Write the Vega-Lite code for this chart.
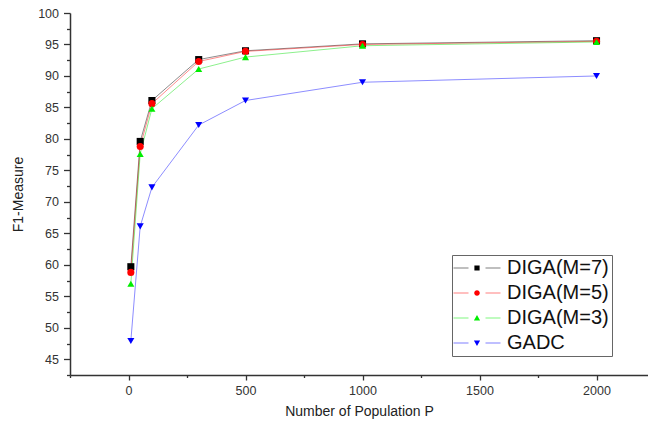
{
  "$schema": "https://vega.github.io/schema/vega-lite/v6.json",
  "width": 578,
  "height": 362,
  "autosize": "none",
  "padding": {"left": 70, "top": 13, "right": 0, "bottom": 55},
  "background": "white",
  "config": {
    "view": {"stroke": null},
    "font": "Liberation Sans",
    "axis": {"grid": false, "domainColor": "#333", "domainWidth": 1.5, "tickColor": "#333", "tickWidth": 1.3, "labelColor": "#333", "titleColor": "#222", "labelFont": "Liberation Sans", "titleFont": "Liberation Sans", "titleFontWeight": "normal"}
  },
  "data": {"values": [
    {"P": 10, "F1": 59.7, "series": "DIGA(M=7)"},
    {"P": 50, "F1": 79.6, "series": "DIGA(M=7)"},
    {"P": 100, "F1": 86.1, "series": "DIGA(M=7)"},
    {"P": 300, "F1": 92.6, "series": "DIGA(M=7)"},
    {"P": 500, "F1": 94.0, "series": "DIGA(M=7)"},
    {"P": 1000, "F1": 95.1, "series": "DIGA(M=7)"},
    {"P": 2000, "F1": 95.6, "series": "DIGA(M=7)"},
    {"P": 10, "F1": 58.8, "series": "DIGA(M=5)"},
    {"P": 50, "F1": 78.8, "series": "DIGA(M=5)"},
    {"P": 100, "F1": 85.6, "series": "DIGA(M=5)"},
    {"P": 300, "F1": 92.3, "series": "DIGA(M=5)"},
    {"P": 500, "F1": 93.9, "series": "DIGA(M=5)"},
    {"P": 1000, "F1": 95.0, "series": "DIGA(M=5)"},
    {"P": 2000, "F1": 95.5, "series": "DIGA(M=5)"},
    {"P": 10, "F1": 57.0, "series": "DIGA(M=3)"},
    {"P": 50, "F1": 77.6, "series": "DIGA(M=3)"},
    {"P": 100, "F1": 84.8, "series": "DIGA(M=3)"},
    {"P": 300, "F1": 91.1, "series": "DIGA(M=3)"},
    {"P": 500, "F1": 93.0, "series": "DIGA(M=3)"},
    {"P": 1000, "F1": 94.8, "series": "DIGA(M=3)"},
    {"P": 2000, "F1": 95.4, "series": "DIGA(M=3)"},
    {"P": 10, "F1": 47.9, "series": "GADC"},
    {"P": 50, "F1": 66.1, "series": "GADC"},
    {"P": 100, "F1": 72.3, "series": "GADC"},
    {"P": 300, "F1": 82.2, "series": "GADC"},
    {"P": 500, "F1": 86.1, "series": "GADC"},
    {"P": 1000, "F1": 89.0, "series": "GADC"},
    {"P": 2000, "F1": 90.0, "series": "GADC"}
  ]},
  "resolve": {"scale": {"color": "independent", "shape": "independent"}, "axis": {"x": "independent", "y": "independent"}},
  "layer": [
    {
      "mark": {"type": "line", "strokeWidth": 1, "strokeOpacity": 0.45},
      "encoding": {
        "x": {"field": "P", "type": "quantitative", "scale": {"domain": [-250, 2220], "nice": false, "zero": false},
              "axis": {"orient": "bottom", "values": [0, 500, 1000, 1500, 2000], "format": "d", "title": "Number of Population P", "titleFontSize": 14, "labelFontSize": 12.5, "tickSize": 5, "labelPadding": 4, "titlePadding": 8}},
        "y": {"field": "F1", "type": "quantitative", "scale": {"domain": [42.5, 100], "nice": false, "zero": false},
              "axis": {"orient": "left", "values": [45, 50, 55, 60, 65, 70, 75, 80, 85, 90, 95, 100], "format": "d", "title": "F1-Measure", "titleFontSize": 14, "labelFontSize": 12.5, "tickSize": 6.5, "labelPadding": 5, "titlePadding": 12}},
        "color": {"field": "series", "type": "nominal", "sort": null, "legend": null,
                  "scale": {"domain": ["DIGA(M=7)", "DIGA(M=5)", "DIGA(M=3)", "GADC"], "range": ["#000000", "#ff0000", "#00dd00", "#0000ff"]}},
        "detail": {"field": "series"}
      }
    },
    {
      "mark": {"type": "point", "filled": true, "opacity": 1, "size": 50},
      "encoding": {
        "x": {"field": "P", "type": "quantitative", "scale": {"domain": [-250, 2220], "nice": false, "zero": false},
              "axis": {"orient": "bottom", "values": [-250, 250, 750, 1250, 1750], "labels": false, "title": null, "domain": false, "tickSize": 2.5}},
        "y": {"field": "F1", "type": "quantitative", "scale": {"domain": [42.5, 100], "nice": false, "zero": false},
              "axis": {"orient": "left", "values": [42.5, 47.5, 52.5, 57.5, 62.5, 67.5, 72.5, 77.5, 82.5, 87.5, 92.5, 97.5], "labels": false, "title": null, "domain": false, "tickSize": 3.5}},
        "color": {"field": "series", "type": "nominal", "sort": null, "legend": null,
                  "scale": {"domain": ["DIGA(M=7)", "DIGA(M=5)", "DIGA(M=3)", "GADC"], "range": ["#000000", "#ff0000", "#00ee00", "#0000ff"]}},
        "shape": {"field": "series", "type": "nominal", "sort": null, "legend": null,
                  "scale": {"domain": ["DIGA(M=7)", "DIGA(M=5)", "DIGA(M=3)", "GADC"], "range": ["square", "circle", "triangle-up", "triangle-down"]}}
      }
    },
    {
      "mark": {"type": "point", "filled": true, "opacity": 0},
      "encoding": {
        "x": {"field": "P", "type": "quantitative", "scale": {"domain": [-250, 2220], "nice": false, "zero": false}, "axis": null},
        "y": {"field": "F1", "type": "quantitative", "scale": {"domain": [42.5, 100], "nice": false, "zero": false}, "axis": null},
        "color": {"field": "series", "type": "nominal", "sort": null,
                  "scale": {"domain": ["DIGA(M=7)", "DIGA(M=5)", "DIGA(M=3)", "GADC"], "range": ["#000000", "#ff0000", "#00ee00", "#0000ff"]},
                  "legend": {"title": null, "orient": "none", "legendX": 382, "legendY": 242, "labelFontSize": 20, "labelFont": "Liberation Sans", "labelColor": "#111", "symbolSize": 400, "symbolOffset": 12, "labelOffset": 20, "strokeColor": "#666", "fillColor": "white", "padding": 3, "rowPadding": 5, "labelLimit": 200,
                             "encode": {"symbols": {"update": {"opacity": {"value": 1}, "strokeWidth": {"value": 0}}}}}},
        "shape": {"field": "series", "type": "nominal", "sort": null,
                  "scale": {"domain": ["DIGA(M=7)", "DIGA(M=5)", "DIGA(M=3)", "GADC"],
                            "range": [
                              "M-2.35,-0.03H-0.85V0.03H-2.35ZM0.85,-0.03H2.35V0.03H0.85ZM-0.26,-0.26H0.26V0.26H-0.26Z",
                              "M-2.35,-0.03H-0.85V0.03H-2.35ZM0.85,-0.03H2.35V0.03H0.85ZM-0.28,0A0.28,0.28,0,1,0,0.28,0A0.28,0.28,0,1,0,-0.28,0Z",
                              "M-2.35,-0.03H-0.85V0.03H-2.35ZM0.85,-0.03H2.35V0.03H0.85ZM0,-0.3L0.31,0.24L-0.31,0.24Z",
                              "M-2.35,-0.03H-0.85V0.03H-2.35ZM0.85,-0.03H2.35V0.03H0.85ZM0,0.3L0.31,-0.24L-0.31,-0.24Z"
                            ]},
                  "legend": {"title": null}}
      }
    }
  ]
}
